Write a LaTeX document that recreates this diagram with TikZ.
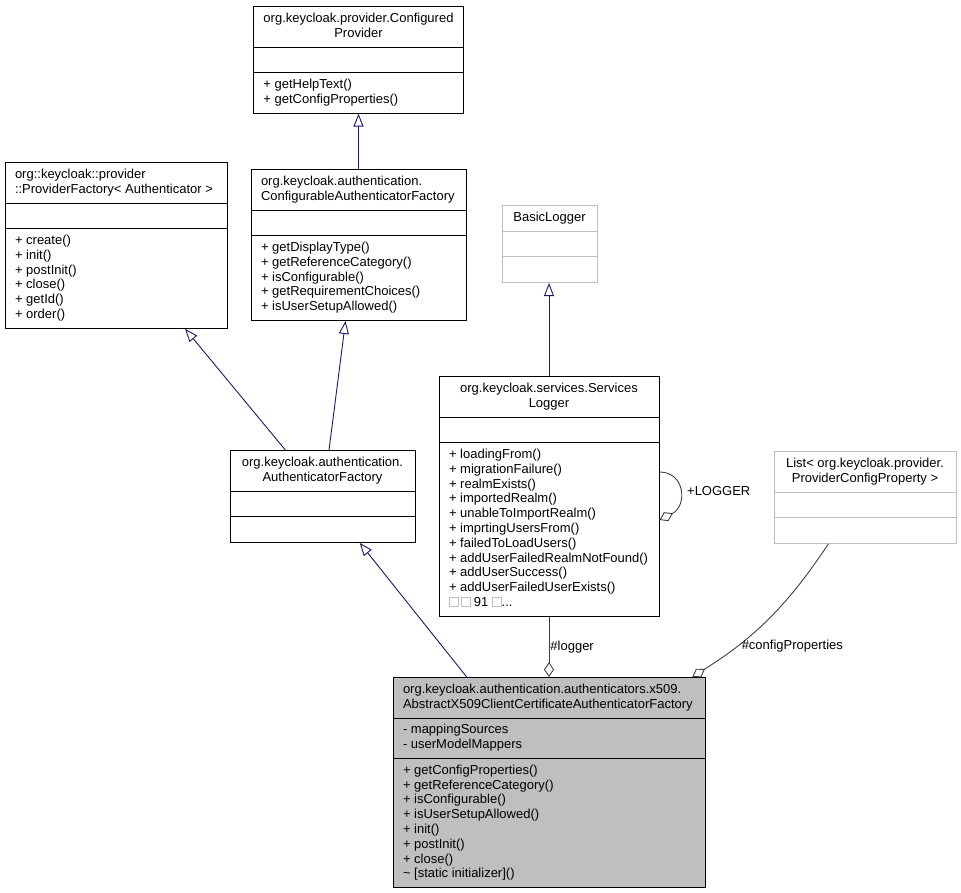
\documentclass[tikz,border=0pt]{standalone}
\usepackage{fontspec}
\setmainfont{Liberation Sans}
\usetikzlibrary{arrows.meta,calc,shapes.multipart}
\definecolor{navyedge}{HTML}{191970}
\definecolor{aggrgray}{HTML}{404040}
\definecolor{boxgray}{HTML}{BFBFBF}
\newcommand\umlfont{\fontsize{13}{14.8}\selectfont}
\newcommand\leftrows[1]{\begin{tabular}{@{}l@{}}#1\end{tabular}}
\newcommand\centrows[1]{\begin{tabular}{@{}c@{}}#1\end{tabular}}
\newcommand\nochar{{\setlength\fboxsep{0pt}\setlength\fboxrule{0.8pt}\fcolorbox{boxgray}{white}{\rule{0pt}{9pt}\rule{8pt}{0pt}}}}
\tikzset{
  umlclass/.style={rectangle split, rectangle split parts=3, draw=black, fill=white,
    line width=0.9pt, inner xsep=10pt, inner ysep=5pt, font=\umlfont, anchor=north,
    rectangle split part align={left,left,left}},
  titlecentred/.style={rectangle split part align={center,left,left}},
  externclass/.style={draw=boxgray},
  mainclass/.style={fill=boxgray},
  inherit/.style={draw=navyedge, line width=0.9pt, -{Triangle[open,length=13pt,width=10pt]}},
  aggr/.style={draw=aggrgray, line width=0.9pt, {Diamond[open,length=15pt,width=10pt]}-},
  edgelabel/.style={font=\umlfont, inner sep=1pt, text=black}
}
\begin{document}
\begin{tikzpicture}[x=1pt,y=-1pt]
  \useasboundingbox[fill=white] (0,0) rectangle (961,892);
  \node[umlclass,titlecentred,minimum width=209] (cprov) at (358.5,6)
    {\centrows{org.keycloak.provider.Configured\\Provider}
     \nodepart{two}\strut
     \nodepart{three}\leftrows{+ getHelpText()\\+ getConfigProperties()}};
  \node[umlclass,minimum width=222] (pfac) at (116,162)
    {\leftrows{org::keycloak::provider\\::ProviderFactory< Authenticator >}
     \nodepart{two}\strut
     \nodepart{three}\leftrows{+ create()\\+ init()\\+ postInit()\\+ close()\\+ getId()\\+ order()}};
  \node[umlclass,minimum width=215] (caf) at (358.5,169)
    {\leftrows{org.keycloak.authentication.\\ConfigurableAuthenticatorFactory}
     \nodepart{two}\strut
     \nodepart{three}\leftrows{+ getDisplayType()\\+ getReferenceCategory()\\+ isConfigurable()\\+ getRequirementChoices()\\+ isUserSetupAllowed()}};
  \node[umlclass,titlecentred,externclass,minimum width=95] (blog) at (549.5,205)
    {\centrows{BasicLogger}
     \nodepart{two}\strut
     \nodepart{three}\strut};
  \node[umlclass,titlecentred,minimum width=220] (slog) at (549,376)
    {\centrows{org.keycloak.services.Services\\Logger}
     \nodepart{two}\strut
     \nodepart{three}\leftrows{+ loadingFrom()\\+ migrationFailure()\\+ realmExists()\\+ importedRealm()\\+ unableToImportRealm()\\+ imprtingUsersFrom()\\+ failedToLoadUsers()\\+ addUserFailedRealmNotFound()\\+ addUserSuccess()\\+ addUserFailedUserExists()\\\nochar\,\nochar{} 91 \nochar...}};
  \node[umlclass,titlecentred,externclass,minimum width=182] (list) at (865,451)
    {\centrows{List< org.keycloak.provider.\\ProviderConfigProperty >}
     \nodepart{two}\strut
     \nodepart{three}\strut};
  \node[umlclass,titlecentred,minimum width=185] (afac) at (322.5,450)
    {\centrows{org.keycloak.authentication.\\AuthenticatorFactory}
     \nodepart{two}\strut
     \nodepart{three}\strut};
  \node[umlclass,mainclass,minimum width=312] (main) at (549,677)
    {\leftrows{org.keycloak.authentication.authenticators.x509.\\AbstractX509ClientCertificateAuthenticatorFactory}
     \nodepart{two}\leftrows{- mappingSources\\- userModelMappers}
     \nodepart{three}\leftrows{+ getConfigProperties()\\+ getReferenceCategory()\\+ isConfigurable()\\+ isUserSetupAllowed()\\+ init()\\+ postInit()\\+ close()\\\textasciitilde{} [static initializer]()}};
  \draw[inherit] (caf.north) -- (cprov.south);
  \draw[inherit] ($(afac.north west)!0.3!(afac.north east)$) -- ($(pfac.south west)!0.81!(pfac.south east)$);
  \draw[inherit] ($(afac.north west)!0.535!(afac.north east)$) -- ($(caf.south west)!0.44!(caf.south east)$);
  \draw[inherit] ($(main.north west)!0.237!(main.north east)$) -- ($(afac.south west)!0.7!(afac.south east)$);
  \draw[inherit] (slog.north) -- (slog.north |- blog.south);
  \draw[aggr] (main.north) -- node[right,edgelabel] {\#logger} (slog.south);
  \draw[aggr] ($(main.north west)!0.958!(main.north east)$) to[bend right=12]
    node[pos=0.27,right,edgelabel,xshift=3pt] {\#configProperties} ($(list.south west)!0.3!(list.south east)$);
  \draw[aggr] ($(slog.north east)+(0,144)$) .. controls +(28,-14) and +(26,0) ..
    node[pos=0.5,right,edgelabel,xshift=6pt] {+LOGGER} ($(slog.north east)+(0,96)$);
\end{tikzpicture}
\end{document}
